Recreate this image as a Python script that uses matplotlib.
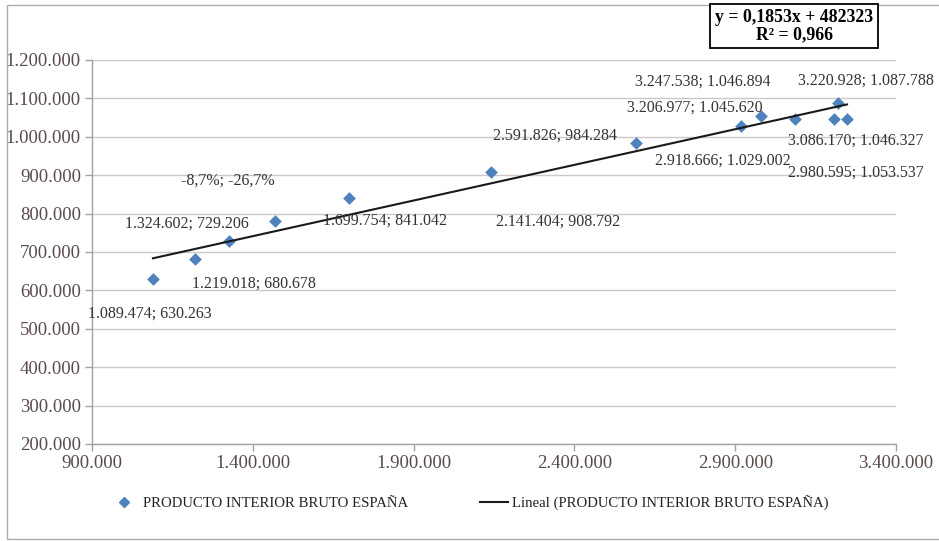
import numpy as np
import matplotlib
matplotlib.use("Agg")
import matplotlib.pyplot as plt
from matplotlib.patches import Rectangle
from matplotlib.lines import Line2D

# ---- data ----
pib_x = [1089474, 1219018, 1324602, 1470000, 1699754, 2141404, 2591826,
         2918666, 2980595, 3086170, 3206977, 3247538, 3220928]
pib_y = [630263, 680678, 729206, 780000, 841042, 908792, 984284,
         1029002, 1053537, 1046327, 1045620, 1046894, 1087788]
point_labels = ["1.089.474; 630.263", "1.219.018; 680.678", "1.324.602; 729.206",
                "-8,7%; -26,7%", "1.699.754; 841.042", "2.141.404; 908.792",
                "2.591.826; 984.284", "2.918.666; 1.029.002", "2.980.595; 1.053.537",
                "3.086.170; 1.046.327", "3.206.977; 1.045.620", "3.247.538; 1.046.894",
                "3.220.928; 1.087.788"]
x_ticks = [900000, 1400000, 1900000, 2400000, 2900000, 3400000]
y_ticks = [200000, 300000, 400000, 500000, 600000, 700000, 800000, 900000,
           1000000, 1100000, 1200000]
equation_text = "y = 0,1853x + 482323\nR² = 0,966"
series_name = "PRODUCTO INTERIOR BRUTO ESPAÑA"
trend_name = "Lineal (PRODUCTO INTERIOR BRUTO ESPAÑA)"

# label offsets in pixels (dx, dy)
label_offsets = [(-3, -35), (59, -24), (-42, 17), (-47, 41), (36, -23), (67, -50),
                 (-81, 7), (-18, -35), (95, -56), (61, -22), (-139, 12), (-144, 37),
                 (28, 22)]

def fmt(v):
    return f"{int(v):,}".replace(",", ".")

plt.rcParams['font.family'] = ['Liberation Serif', 'DejaVu Serif']

W, H = 939, 541
fig = plt.figure(figsize=(W/100, H/100), dpi=100)
ax = fig.add_axes([92/W, 1-444/H, (896-92)/W, (444-60)/H])

blue = '#4f81bd'
ax.scatter(pib_x, pib_y, marker='D', s=42, color=blue, zorder=3, linewidths=0)

coef = np.polyfit(pib_x, pib_y, 1)
xs = np.array([min(pib_x), max(pib_x)])
ax.plot(xs, np.polyval(coef, xs), color='#1a1a1a', lw=1.5, zorder=4)

for x, y, t, (dx, dy) in zip(pib_x, pib_y, point_labels, label_offsets):
    ax.annotate(t, (x, y), xytext=(dx, dy), textcoords='offset pixels',
                ha='center', va='center', fontsize=11.5, color='#333333', zorder=5)

ax.set_xlim(900000, 3400000)
ax.set_ylim(200000, 1200000)
ax.set_xticks(x_ticks)
ax.set_yticks(y_ticks)
ax.set_xticklabels([fmt(v) for v in x_ticks])
ax.set_yticklabels([fmt(v) for v in y_ticks])
ax.tick_params(axis='both', labelsize=13.5, colors='#a89f9f', labelcolor='#5a4b4b',
               length=5, width=1, direction='out')
ax.tick_params(axis='x', pad=3)
ax.tick_params(axis='y', pad=3)
ax.grid(axis='y', color='#cfc7c7', lw=1)
ax.set_axisbelow(True)
for s in ['top', 'right']:
    ax.spines[s].set_visible(False)
for s in ['left', 'bottom']:
    ax.spines[s].set_color('#a89f9f')
    ax.spines[s].set_linewidth(1)

# equation box
fig.text(794/W, 1-26/H, equation_text, ha='center', va='center', fontsize=12.8,
         fontweight='bold', color='black', linespacing=1.05,
         bbox=dict(boxstyle='square,pad=0.25', fc='white', ec='black', lw=1.3))

# legend
handles = [Line2D([], [], marker='D', color=blue, linestyle='none', markersize=5),
           Line2D([], [], color='#1a1a1a', lw=1.5)]
fig.legend(handles, [series_name, trend_name], loc='center left',
           bbox_to_anchor=(97/W, 1-503/H), ncol=2, frameon=False,
           fontsize=10.6, handlelength=1.9, handletextpad=0.3,
           columnspacing=4.9, labelcolor='#222222')

# outer chart border
fig.patches.append(Rectangle((7/W, 2/H), 1.0, 1-7/H, transform=fig.transFigure,
                             fill=False, ec='#b0aaaa', lw=1))

fig.savefig('out.png', dpi=100)
